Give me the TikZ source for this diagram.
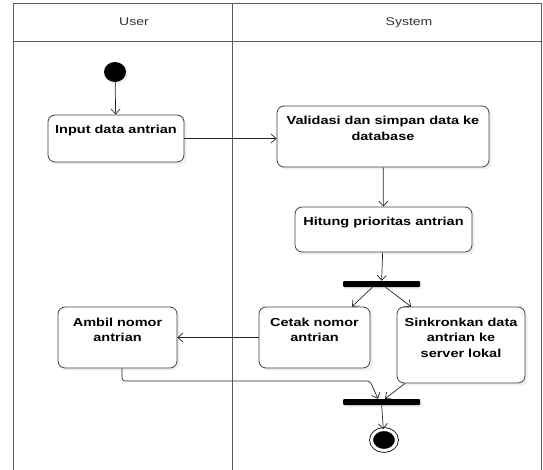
\documentclass[tikz,border=0pt]{standalone}
\usepackage{fontspec}
\setmainfont[FakeStretch=1.25]{Liberation Sans}
\usepackage{xcolor}
\usetikzlibrary{arrows.meta,shadows,shapes.geometric,calc}
\definecolor{lane-grey}{RGB}{90,90,90}
\tikzstyle{lane}=[draw=lane-grey, line width=1pt]
\tikzstyle{lanehead}=[anchor=base, text=black!80, font=\fontsize{11.2}{13}\selectfont]
\tikzstyle{action}=[draw=black!75, line width=0.8pt, rounded corners=7pt, fill=white, inner sep=0pt, drop shadow={shadow xshift=2.5pt, shadow yshift=-2.5pt, fill=black!12}, font=\fontsize{11.6}{15.5}\selectfont\bfseries]
\tikzstyle{bar}=[fill=black, rounded corners=1pt, minimum width=77pt, minimum height=6pt, inner sep=0pt, drop shadow={shadow xshift=2pt, shadow yshift=-2pt, fill=black!12}]
\tikzstyle{initial}=[ellipse, fill=black, minimum width=22pt, minimum height=20pt, inner sep=0pt, drop shadow={shadow xshift=2pt, shadow yshift=-2pt, fill=black!12}]
\tikzstyle{final}=[ellipse, draw=black, fill=black, minimum width=25pt, minimum height=21pt, inner sep=0pt, line width=0.8pt, double=white, double distance=3pt]
\tikzstyle{flow}=[draw=black!85, line width=0.7pt, -{Straight Barb[length=5pt,width=9pt]}]
\newcommand{\actionNbox}[5]{
	\node[action] (#1) at #2 {\parbox[c][#4pt][t]{#3pt}{\centering\rule{0pt}{19pt}#5}};
}

\begin{document}
\begin{tikzpicture}[x=1pt,y=-1pt]
	\useasboundingbox (0,0) rectangle (543,470);
	% swimlanes
	\draw[lane] (13,470) -- (13,4) -- (541,4) -- (541,470);
	\draw[lane] (13,42) -- (541,42);
	\draw[lane] (232,4) -- (232,470);
	\node[lanehead] (user) at (134,26) {User};
	\node[lanehead] (system) at (409,26) {System};
	% activities
	\node[initial] (start) at (115,72) {};
	\actionNbox{input}{(116,138.5)}{136}{47}{Input data antrian}
	\actionNbox{valid}{(383,136.5)}{212}{61}{Validasi dan simpan data ke\\database}
	\actionNbox{hitung}{(383.5,229.5)}{177}{45}{Hitung prioritas antrian}
	\node[bar] (fork) at (381.5,284) {};
	\actionNbox{cetak}{(314.5,337.5)}{111}{61}{Cetak nomor\\antrian}
	\actionNbox{sinkron}{(461,345)}{128}{76}{Sinkronkan data\\antrian ke\\server lokal}
	\actionNbox{ambil}{(117.5,337.5)}{119}{61}{Ambil nomor\\antrian}
	\node[bar] (join) at (381.5,402) {};
	\node[final] (end) at (384,440) {};
	\coordinate (bend) at (370,381);
	% flows
	\draw[flow] (start) -- (input);
	\draw[flow] (input.east) -- (valid.west |- input.east);
	\draw[flow] (valid) -- (hitung);
	\draw[flow] (hitung) -- (fork);
	\draw[flow] ([xshift=-9pt]fork.south) -- ([xshift=37.5pt]cetak.north);
	\draw[flow] ([xshift=4pt]fork.south) -- ([xshift=-50pt]sinkron.north);
	\draw[flow] (cetak) -- (ambil);
	\draw[flow, rounded corners=3pt] ([xshift=4.5pt]ambil.south) |- (bend) -- ([xshift=-3.5pt]join.north);
	\draw[flow] ([xshift=-56pt]sinkron.south) -- ([xshift=3.5pt]join.north);
	\draw[flow] (join) -- (end);
\end{tikzpicture}
\end{document}
